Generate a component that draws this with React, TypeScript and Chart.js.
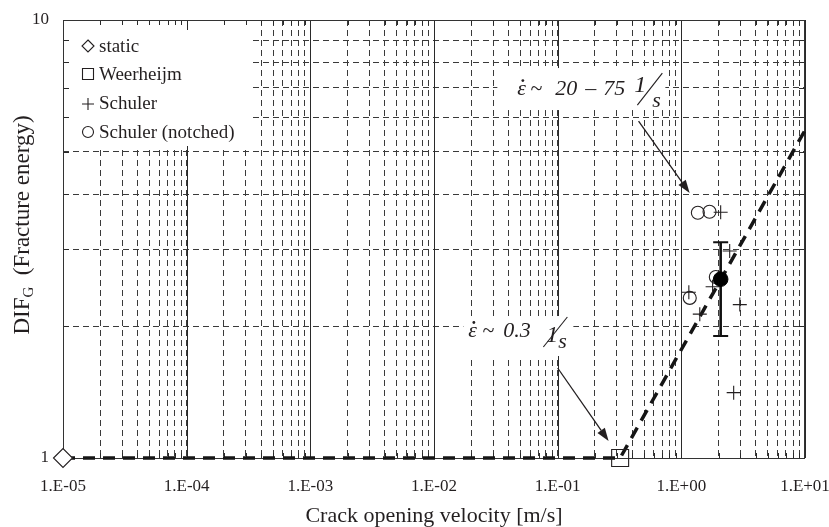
import React, { useEffect, useRef } from 'react';
import { Chart, registerables } from 'chart.js';

Chart.register(...registerables);

const SERIF = '"Liberation Serif", "Times New Roman", serif';
const INK = '#231f20';

// ---- axis ticks ----
const xDecades = [1e-5, 1e-4, 1e-3, 1e-2, 1e-1, 1, 10];
const xDecadeLabels = ['1.E-05', '1.E-04', '1.E-03', '1.E-02', '1.E-01', '1.E+00', '1.E+01'];
const minorMultipliers = [2, 3, 4, 5, 6, 7, 8, 9];
const yTickValues = [1, 2, 3, 4, 5, 6, 7, 8, 9, 10];
const yTickLabels = ['1', '', '', '', '', '', '', '', '', '10'];

// ---- data ----
const fitX = [1e-5, 0.32, 10];
const fitY = [1, 1, 5.6];
const staticX = [1e-5];
const staticY = [1];
const weerX = [0.32];
const weerY = [1];
const schulerX = [2.08, 2.46, 1.79, 1.15, 1.41, 2.97, 2.65];
const schulerY = [3.64, 2.97, 2.46, 2.39, 2.13, 2.24, 1.41];
const notchedX = [1.36, 1.69, 1.9, 1.17];
const notchedY = [3.63, 3.65, 2.59, 2.32];
const meanX = [2.08];
const meanY = [2.56];
const meanLow = [1.9];
const meanHigh = [3.11];

// ---- annotations (data anchors) ----
const ann1Anchor = { x: 0.0472, y: 6.74 };
const ann2Anchor = { x: 0.01896, y: 1.889 };
const arrow1 = { x1: 0.451, y1: 5.88, x2: 1.167, y2: 4.03 };
const arrow2 = { x1: 0.1, y1: 1.605, x2: 0.258, y2: 1.093 };

const legendItems = ['static', 'Weerheijm', 'Schuler', 'Schuler (notched)'];

const xTickValues: number[] = [];
xDecades.forEach((d, i) => {
  xTickValues.push(d);
  if (i < xDecades.length - 1) minorMultipliers.forEach((m) => xTickValues.push(d * m));
});

const pts = (xs: number[], ys: number[]) => xs.map((x, i) => ({ x, y: ys[i] }));

function xLabel(v: number) {
  const idx = xDecades.findIndex((d) => Math.abs(v / d - 1) < 1e-6);
  return idx >= 0 ? xDecadeLabels[idx] : '';
}
function yLabel(v: number) {
  const idx = yTickValues.findIndex((d) => Math.abs(v / d - 1) < 1e-6);
  return idx >= 0 ? yTickLabels[idx] : '';
}

function drawSymbol(ctx: CanvasRenderingContext2D, kind: number, cx: number, cy: number) {
  ctx.beginPath();
  if (kind === 0) {
    const r = 6;
    ctx.moveTo(cx, cy - r);
    ctx.lineTo(cx + r, cy);
    ctx.lineTo(cx, cy + r);
    ctx.lineTo(cx - r, cy);
    ctx.closePath();
  } else if (kind === 1) {
    ctx.rect(cx - 5.5, cy - 5.5, 11, 11);
  } else if (kind === 2) {
    ctx.moveTo(cx - 6, cy);
    ctx.lineTo(cx + 6, cy);
    ctx.moveTo(cx, cy - 6);
    ctx.lineTo(cx, cy + 6);
  } else {
    ctx.arc(cx, cy, 5.5, 0, Math.PI * 2);
  }
  ctx.stroke();
}

function drawArrow(ctx: CanvasRenderingContext2D, x1: number, y1: number, x2: number, y2: number) {
  const ang = Math.atan2(y2 - y1, x2 - x1);
  const hl = 13;
  const hw = 4.5;
  const bx = x2 - hl * Math.cos(ang);
  const by = y2 - hl * Math.sin(ang);
  ctx.beginPath();
  ctx.moveTo(x1, y1);
  ctx.lineTo(bx, by);
  ctx.stroke();
  ctx.beginPath();
  ctx.moveTo(x2, y2);
  ctx.lineTo(bx + hw * Math.sin(ang), by - hw * Math.cos(ang));
  ctx.lineTo(bx - hw * Math.sin(ang), by + hw * Math.cos(ang));
  ctx.closePath();
  ctx.fill();
}

type Piece = { t: string; dx: number; dy: number; size: number };
function drawRate(
  ctx: CanvasRenderingContext2D,
  ax: number,
  ay: number,
  pieces: Piece[],
  dot: [number, number],
  slash: [number, number, number, number]
) {
  ctx.fillStyle = INK;
  ctx.textAlign = 'left';
  ctx.textBaseline = 'alphabetic';
  pieces.forEach((p) => {
    ctx.font = `italic ${p.size}px ${SERIF}`;
    ctx.fillText(p.t, ax + p.dx, ay + p.dy);
  });
  ctx.beginPath();
  ctx.arc(ax + dot[0], ay + dot[1], 1.4, 0, Math.PI * 2);
  ctx.fill();
  ctx.lineWidth = 1.1;
  ctx.strokeStyle = INK;
  ctx.beginPath();
  ctx.moveTo(ax + slash[0], ay + slash[1]);
  ctx.lineTo(ax + slash[2], ay + slash[3]);
  ctx.stroke();
}

const overlayPlugin = {
  id: 'overlay',
  beforeDatasetsDraw(chart: any) {
    const { ctx, chartArea: ca, scales } = chart;
    const xs = scales.x;
    const ys = scales.y;
    ctx.save();
    // solid decade lines
    ctx.strokeStyle = '#2a2a2a';
    ctx.lineWidth = 1;
    xDecades.forEach((d) => {
      const px = Math.round(xs.getPixelForValue(d)) + 0.5;
      ctx.beginPath();
      ctx.moveTo(px, ca.top);
      ctx.lineTo(px, ca.bottom);
      ctx.stroke();
    });
    // white boxes: legend + annotations
    ctx.fillStyle = '#ffffff';
    ctx.fillRect(ca.left + 1, ca.top + 1, 186, 125);
    const a1x = xs.getPixelForValue(ann1Anchor.x);
    const a1y = ys.getPixelForValue(ann1Anchor.y);
    const a2x = xs.getPixelForValue(ann2Anchor.x);
    const a2y = ys.getPixelForValue(ann2Anchor.y);
    ctx.fillRect(a1x - 20, a1y - 27, 168, 42);
    ctx.fillRect(a2x - 5, a2y - 21, 110, 40);

    // inner tick marks on all four sides
    ctx.strokeStyle = '#2a2a2a';
    ctx.lineWidth = 1;
    xTickValues.forEach((v) => {
      const px = Math.round(xs.getPixelForValue(v)) + 0.5;
      const major = xLabel(v) !== '';
      const len = major ? 10 : 5;
      ctx.beginPath();
      ctx.moveTo(px, ca.top);
      ctx.lineTo(px, ca.top + len);
      ctx.moveTo(px, ca.bottom);
      ctx.lineTo(px, ca.bottom - len);
      ctx.stroke();
    });
    yTickValues.forEach((v) => {
      const py = Math.round(ys.getPixelForValue(v)) + 0.5;
      ctx.beginPath();
      ctx.moveTo(ca.left, py);
      ctx.lineTo(ca.left + 6, py);
      ctx.moveTo(ca.right, py);
      ctx.lineTo(ca.right - 6, py);
      ctx.stroke();
    });
    // frame
    ctx.strokeStyle = '#333';
    ctx.lineWidth = 1;
    ctx.strokeRect(Math.round(ca.left) + 0.5, Math.round(ca.top) + 0.5, Math.round(ca.right - ca.left) - 1, Math.round(ca.bottom - ca.top));

    // legend
    ctx.strokeStyle = INK;
    ctx.lineWidth = 1.1;
    const symY = [26, 54, 84, 112];
    const txtY = [32, 60, 89, 118];
    legendItems.forEach((t, i) => {
      drawSymbol(ctx, i, ca.left + 25, ca.top + symY[i]);
      ctx.fillStyle = INK;
      ctx.font = `19px ${SERIF}`;
      ctx.textAlign = 'left';
      ctx.textBaseline = 'alphabetic';
      ctx.fillText(t, ca.left + 36, ca.top + txtY[i]);
    });

    // annotation 1
    drawRate(
      ctx,
      a1x,
      a1y,
      [
        { t: 'ε', dx: 0, dy: 0, size: 22 },
        { t: '~', dx: 13, dy: 0, size: 22 },
        { t: '20', dx: 38, dy: 0, size: 22 },
        { t: '–', dx: 68, dy: 0, size: 22 },
        { t: '75', dx: 86, dy: 0, size: 22 },
        { t: '1', dx: 117, dy: -3, size: 24 },
        { t: 's', dx: 135, dy: 12, size: 22 },
      ],
      [5.5, -14.5],
      [120, 10, 145, -22]
    );
    // annotation 2
    drawRate(
      ctx,
      a2x,
      a2y,
      [
        { t: 'ε', dx: 0, dy: 0, size: 22 },
        { t: '~', dx: 14, dy: 0, size: 22 },
        { t: '0.3', dx: 35, dy: 0, size: 22 },
        { t: '1', dx: 78, dy: 5, size: 24 },
        { t: 's', dx: 90, dy: 11, size: 22 },
      ],
      [5.5, -14.5],
      [75, 10, 99, -20]
    );
    // arrows
    ctx.fillStyle = INK;
    ctx.strokeStyle = INK;
    ctx.lineWidth = 1.3;
    drawArrow(ctx, xs.getPixelForValue(arrow1.x1), ys.getPixelForValue(arrow1.y1), xs.getPixelForValue(arrow1.x2), ys.getPixelForValue(arrow1.y2));
    drawArrow(ctx, xs.getPixelForValue(arrow2.x1), ys.getPixelForValue(arrow2.y1), xs.getPixelForValue(arrow2.x2), ys.getPixelForValue(arrow2.y2));

    // error bar for mean
    meanX.forEach((mx, i) => {
      const px = xs.getPixelForValue(mx);
      const pLo = ys.getPixelForValue(meanLow[i]);
      const pHi = ys.getPixelForValue(meanHigh[i]);
      ctx.strokeStyle = '#111';
      ctx.lineWidth = 2.6;
      ctx.beginPath();
      ctx.moveTo(px, pLo);
      ctx.lineTo(px, pHi);
      ctx.stroke();
      ctx.lineWidth = 2;
      ctx.beginPath();
      ctx.moveTo(px - 7.5, pLo);
      ctx.lineTo(px + 7.5, pLo);
      ctx.moveTo(px - 7.5, pHi);
      ctx.lineTo(px + 7.5, pHi);
      ctx.stroke();
    });
    ctx.restore();
  },
  afterDraw(chart: any) {
    const { ctx, chartArea: ca } = chart;
    ctx.save();
    const cy = (ca.top + ca.bottom) / 2 - 14;
    ctx.translate(29, cy);
    ctx.rotate(-Math.PI / 2);
    ctx.fillStyle = INK;
    ctx.textBaseline = 'alphabetic';
    ctx.textAlign = 'left';
    const main = `23px ${SERIF}`;
    const sub = `15px ${SERIF}`;
    ctx.font = main;
    const w1 = ctx.measureText('DIF').width;
    const w3 = ctx.measureText('  (Fracture energy)').width;
    ctx.font = sub;
    const w2 = ctx.measureText('G').width;
    const total = w1 + w2 + w3;
    let x0 = -total / 2;
    ctx.font = main;
    ctx.fillText('DIF', x0, 0);
    x0 += w1;
    ctx.font = sub;
    ctx.fillText('G', x0, 4);
    x0 += w2;
    ctx.font = main;
    ctx.fillText('  (Fracture energy)', x0, 0);
    ctx.restore();
  },
};

export default function App() {
  const ref = useRef<HTMLCanvasElement>(null);
  useEffect(() => {
    const canvas = ref.current;
    if (!canvas) return;
    const chart = new Chart(canvas, {
      type: 'scatter',
      data: {
        datasets: [
          {
            label: 'fit',
            data: pts(fitX, fitY),
            showLine: true,
            borderColor: '#151515',
            borderWidth: 3.5,
            borderDash: [12, 8],
            pointRadius: 0,
            tension: 0,
            fill: false,
            clip: false,
            order: 10,
          } as any,
          {
            label: 'static',
            data: pts(staticX, staticY),
            pointStyle: 'rectRot',
            pointRadius: 9.5,
            borderColor: INK,
            borderWidth: 1.1,
            backgroundColor: '#ffffff',
            clip: false,
            order: 1,
          },
          {
            label: 'Weerheijm',
            data: pts(weerX, weerY),
            pointStyle: 'rect',
            pointRadius: 12,
            borderColor: INK,
            borderWidth: 1.1,
            backgroundColor: 'rgba(0,0,0,0)',
            clip: false,
            order: 1,
          },
          {
            label: 'Schuler',
            data: pts(schulerX, schulerY),
            pointStyle: 'cross',
            pointRadius: 7,
            borderColor: INK,
            borderWidth: 1.1,
            order: 1,
          },
          {
            label: 'Schuler (notched)',
            data: pts(notchedX, notchedY),
            pointStyle: 'circle',
            pointRadius: 6.5,
            borderColor: INK,
            borderWidth: 1.1,
            backgroundColor: 'rgba(0,0,0,0)',
            order: 1,
          },
          {
            label: 'mean',
            data: pts(meanX, meanY),
            pointStyle: 'circle',
            pointRadius: 7.3,
            borderColor: '#000',
            borderWidth: 1,
            backgroundColor: '#000',
            order: 0,
          },
        ],
      },
      options: {
        responsive: false,
        animation: false,
        events: [],
        layout: { padding: { top: 20, right: 24, left: 0, bottom: 0 } },
        plugins: {
          legend: { display: false },
          tooltip: { enabled: false },
        },
        scales: {
          x: {
            type: 'logarithmic',
            min: 1e-5,
            max: 10,
            afterBuildTicks: (s: any) => {
              s.ticks = xTickValues.map((v) => ({ value: v }));
            },
            afterFit: (s: any) => {
              s.height = 69;
              s.paddingLeft = 0;
              s.paddingRight = 0;
            },
            ticks: {
              autoSkip: false,
              maxRotation: 0,
              minRotation: 0,
              padding: 18,
              color: INK,
              font: { family: SERIF, size: 17 },
              callback: (v: any) => xLabel(Number(v)),
            },
            grid: { color: '#3a3a3a', lineWidth: 1, drawTicks: false },
            border: { display: false, dash: [6, 4] },
            title: {
              display: true,
              text: 'Crack opening velocity [m/s]',
              color: INK,
              font: { family: SERIF, size: 22, lineHeight: 1 },
              padding: 0,
            },
          },
          y: {
            type: 'logarithmic',
            min: 1,
            max: 10,
            afterBuildTicks: (s: any) => {
              s.ticks = yTickValues.map((v) => ({ value: v }));
            },
            afterFit: (s: any) => {
              s.width = 63;
              s.paddingTop = 0;
              s.paddingBottom = 0;
            },
            ticks: {
              autoSkip: false,
              padding: 14,
              color: INK,
              font: { family: SERIF, size: 17 },
              callback: (v: any) => yLabel(Number(v)),
            },
            grid: { color: '#3a3a3a', lineWidth: 1, drawTicks: false },
            border: { display: false, dash: [6, 4] },
          },
        },
      },
      plugins: [overlayPlugin],
    } as any);
    return () => chart.destroy();
  }, []);
  return (
    <div style={{ position: 'fixed', left: 0, top: 0, width: 829, height: 527, background: '#fff' }}>
      <canvas ref={ref} width={829} height={527} style={{ display: 'block', width: 829, height: 527 }} />
    </div>
  );
}
